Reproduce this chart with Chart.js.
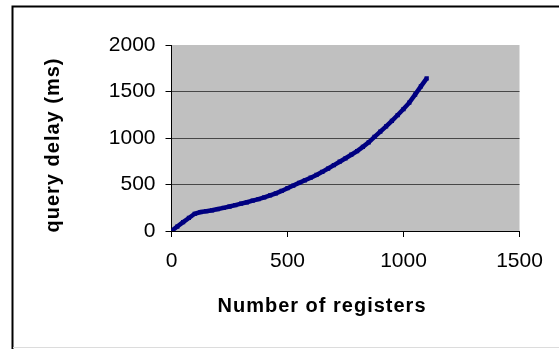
<!DOCTYPE html>
<html>
<head>
<meta charset="utf-8">
<script src="https://cdn.jsdelivr.net/npm/chart.js@4/dist/chart.umd.min.js"></script>
<style>
  html, body { margin: 0; padding: 0; background: #fff; }
  #wrap { width: 559px; height: 349px; position: relative; }
</style>
</head>
<body>
<div id="wrap"><canvas id="c" width="559" height="349"></canvas></div>
<script>
// Number of registers vs. measured query delay
const registers = [0, 25, 50, 75, 100, 125, 150, 175, 200, 225, 250, 275, 300, 325, 350, 375,
  400, 425, 450, 475, 500, 525, 550, 575, 600, 625, 650, 675, 700, 725, 750, 775, 800, 825,
  850, 875, 900, 925, 950, 975, 1000, 1025, 1050, 1075, 1100];
const queryDelayMs = [0, 48, 95, 140, 185, 204, 213, 223, 236, 249, 263, 278, 294, 309, 326, 343,
  362, 383, 405, 431, 460, 489, 517, 545, 573, 603, 636, 672, 709, 745, 782, 820, 860, 905,
  954, 1012, 1068, 1124, 1184, 1247, 1311, 1380, 1466, 1555, 1641];
const xTicks = [0, 500, 1000, 1500];
const yTicks = [0, 500, 1000, 1500, 2000];

const xTitle = 'Number of registers';
const yTitle = 'query delay (ms)';
const FONT = '"Liberation Sans", Arial, sans-serif';

const frame = {
  id: 'frame',
  beforeDraw(chart) {
    const { ctx, chartArea: a } = chart;
    ctx.save();
    ctx.fillStyle = '#ffffff';
    ctx.fillRect(0, 0, chart.width, chart.height);
    // outer frame
    ctx.strokeStyle = '#000';
    ctx.lineWidth = 2;
    ctx.beginPath();
    ctx.moveTo(12.5, 349);
    ctx.lineTo(12.5, 6.5);
    ctx.lineTo(559, 6.5);
    ctx.stroke();
    ctx.strokeStyle = '#dcdcdc';
    ctx.lineWidth = 1;
    ctx.beginPath();
    ctx.moveTo(13, 347.5);
    ctx.lineTo(559, 347.5);
    ctx.stroke();
    // plot area fill
    ctx.fillStyle = '#c0c0c0';
    ctx.fillRect(a.left, a.top, a.right - a.left, a.bottom - a.top);
    ctx.restore();
  },
  afterDraw(chart) {
    const { ctx } = chart;
    ctx.save();
    ctx.fillStyle = '#000';
    ctx.font = 'bold 20px ' + FONT;
    if ('letterSpacing' in ctx) ctx.letterSpacing = '1px';
    ctx.textAlign = 'center';
    ctx.textBaseline = 'alphabetic';
    ctx.fillText(xTitle, 322, 311.5);
    ctx.translate(59, 145);
    ctx.rotate(-Math.PI / 2);
    ctx.fillText(yTitle, 0, 0);
    ctx.restore();
  }
};

new Chart(document.getElementById('c'), {
  type: 'scatter',
  data: {
    datasets: [{
      data: registers.map((x, i) => ({ x, y: queryDelayMs[i] })),
      showLine: true,
      borderColor: '#000080',
      backgroundColor: '#000080',
      borderWidth: 4.5,
      pointStyle: 'rect',
      pointRadius: 3,
      pointBorderWidth: 0,
      tension: 0
    }]
  },
  options: {
    responsive: false,
    animation: false,
    events: [],
    layout: { padding: { left: 0, top: 45, right: 39.5, bottom: 0 } },
    plugins: { legend: { display: false }, tooltip: { enabled: false } },
    scales: {
      x: {
        type: 'linear',
        min: 0,
        max: 1500,
        afterBuildTicks: s => { s.ticks = xTicks.map(v => ({ value: v })); },
        afterFit: s => { s.height = 118; },
        ticks: {
          color: '#000', font: { family: FONT, size: 21 }, padding: 12, maxRotation: 0,
          callback: v => String(v)
        },
        grid: { drawOnChartArea: false, tickLength: 6, tickColor: '#000' },
        border: { color: '#000', width: 1 }
      },
      y: {
        min: 0,
        max: 2000,
        afterBuildTicks: s => { s.ticks = yTicks.map(v => ({ value: v })); },
        afterFit: s => { s.width = 171.5; },
        ticks: {
          color: '#000', font: { family: FONT, size: 21 }, padding: 10,
          callback: v => String(v)
        },
        grid: {
          color: c => (c.tick && (c.tick.value === 0 || c.tick.value === 2000)) ? 'rgba(0,0,0,0)' : '#474747',
          tickLength: 6,
          tickColor: '#000'
        },
        border: { color: '#000', width: 1 }
      }
    }
  },
  plugins: [frame]
});
</script>
</body>
</html>
